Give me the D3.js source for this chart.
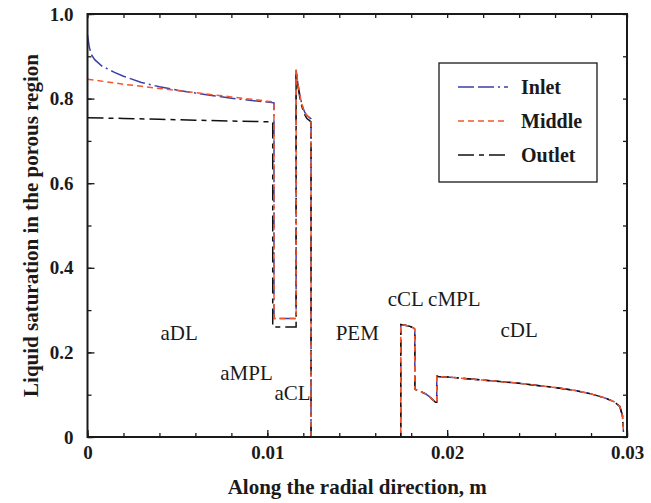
<!DOCTYPE html>
<html><head><meta charset="utf-8">
<script src="https://cdn.jsdelivr.net/npm/d3@7/dist/d3.min.js"></script>
<style>
html,body{margin:0;padding:0;background:#fff;}
svg{display:block;}
text{font-family:"Liberation Serif","Times New Roman",serif;fill:#1a1a1a;}
</style></head>
<body>
<svg id="chart" width="651" height="503"></svg>
<script>
// ---- data ----
const seriesNames = ["Inlet", "Middle", "Outlet"];
const seriesColors = ["#3b3fa8", "#f2572d", "#111111"];
const seriesDash = ["16,4,16,4,2,4", "6,4", "16,5,5,5"];

const inletX = [0,0.0001,0.0002,0.0004,0.0008,0.0015,0.002,0.003,0.004,0.005,0.006,0.007,0.008,0.009,0.010,0.01037,
  0.01037,0.01160,0.01160,0.0117,0.0118,0.0119,0.0120,0.0121,0.0122,0.01235,0.01243,0.01243];
const inletS = [0.95,0.922,0.905,0.892,0.877,0.862,0.853,0.838,0.828,0.820,0.813,0.807,0.801,0.796,0.792,0.790,
  0.28,0.28,0.868,0.835,0.810,0.790,0.776,0.766,0.760,0.755,0.752,0];

const middleX = [0,0.001,0.002,0.003,0.004,0.005,0.006,0.007,0.008,0.009,0.010,0.01037,
  0.01037,0.01160,0.01160,0.0117,0.0118,0.0119,0.0120,0.0121,0.0122,0.01235,0.01243,0.01243];
const middleS = [0.846,0.840,0.834,0.829,0.824,0.819,0.814,0.809,0.804,0.799,0.794,0.792,
  0.28,0.28,0.868,0.835,0.810,0.790,0.776,0.766,0.760,0.755,0.752,0];

const outletX = [0,0.002,0.004,0.006,0.008,0.0103,
  0.0103,0.0116,0.0116,0.0117,0.0118,0.0119,0.0120,0.0121,0.0122,0.01235,0.01243,0.01243];
const outletS = [0.755,0.753,0.751,0.749,0.747,0.745,
  0.26,0.26,0.864,0.830,0.805,0.785,0.770,0.760,0.753,0.748,0.745,0];

// membrane + cathode side (shared by all three)
const cathodeX = [0.01243,0.01742,0.01742,0.0176,0.0179,0.01812,0.0182,0.0182,0.0185,0.0188,0.0190,0.0192,0.01935,0.01942,0.01942,
  0.0195,0.020,0.022,0.024,0.026,0.027,0.028,0.0288,0.0293,0.0296,0.02975,0.0298];
const cathodeS = [0,0,0.266,0.265,0.262,0.258,0.255,0.113,0.108,0.102,0.096,0.088,0.082,0.082,0.144,
  0.143,0.142,0.1345,0.127,0.117,0.111,0.102,0.092,0.083,0.072,0.05,0.012];

const xTickValues = [0, 0.01, 0.02, 0.03];
const xTickLabels = ["0", "0.01", "0.02", "0.03"];
const yTickValues = [0, 0.2, 0.4, 0.6, 0.8, 1.0];
const yTickLabels = ["0", "0.2", "0.4", "0.6", "0.8", "1.0"];

const regionNames = ["aDL", "aMPL", "aCL", "PEM", "cCL", "cMPL", "cDL"];
const regionX = [0.0051, 0.0103, 0.0114, 0.0150, 0.0177, 0.0204, 0.0240];
const regionY = [0.23, 0.135, 0.087, 0.23, 0.31, 0.31, 0.237];
const regionAnchor = ["middle", "end", "middle", "middle", "middle", "middle", "middle"];

// ---- chart ----
const svg = d3.select("#chart");
const L = 87.5, R = 627, T = 14, B = 437;
const x = d3.scaleLinear().domain([0, 0.03]).range([L, R]);
const y = d3.scaleLinear().domain([0, 1]).range([B, T]);

const minorX = d3.range(0, 0.0301, 0.002);
const minorY = d3.range(0, 1.001, 0.1);

function styleAxis(g){
  g.select(".domain").remove();
  g.selectAll(".tick line").attr("stroke","#1a1a1a").attr("stroke-width",1.3);
  g.selectAll(".tick text").attr("font-size",19).attr("font-weight","bold")
    .attr("font-family","'Liberation Serif','Times New Roman',serif").attr("fill","#1a1a1a");
}

// minor ticks
svg.append("g").attr("transform",`translate(0,${B})`)
  .call(d3.axisBottom(x).tickValues(minorX).tickSize(-4).tickFormat(""))
  .call(styleAxis);
svg.append("g").attr("transform",`translate(0,${T})`)
  .call(d3.axisTop(x).tickValues(minorX).tickSize(-4).tickFormat(""))
  .call(styleAxis);
svg.append("g").attr("transform",`translate(${L},0)`)
  .call(d3.axisLeft(y).tickValues(minorY).tickSize(-4).tickFormat(""))
  .call(styleAxis);
svg.append("g").attr("transform",`translate(${R},0)`)
  .call(d3.axisRight(y).tickValues(minorY).tickSize(-4).tickFormat(""))
  .call(styleAxis);

// major ticks with labels
svg.append("g").attr("transform",`translate(0,${B})`)
  .call(d3.axisBottom(x).tickValues(xTickValues).tickSize(-7).tickPadding(9)
    .tickFormat((d,i)=>xTickLabels[i]))
  .call(styleAxis);
svg.append("g").attr("transform",`translate(${L},0)`)
  .call(d3.axisLeft(y).tickValues(yTickValues).tickSize(-7).tickPadding(14)
    .tickFormat((d,i)=>yTickLabels[i]))
  .call(styleAxis);

// series
const line = d3.line().x(d=>x(d[0])).y(d=>y(d[1]));
const seriesData = [
  inletX.concat(cathodeX).map((v,i)=>[v, inletS.concat(cathodeS)[i]]),
  middleX.concat(cathodeX).map((v,i)=>[v, middleS.concat(cathodeS)[i]]),
  outletX.concat(cathodeX).map((v,i)=>[v, outletS.concat(cathodeS)[i]])
];
const drawOrder = [0, 2, 1];
drawOrder.forEach(k=>{
  svg.append("path").datum(seriesData[k])
    .attr("d", line).attr("fill","none")
    .attr("stroke", seriesColors[k]).attr("stroke-width",1.5)
    .attr("stroke-dasharray", seriesDash[k]);
});

// frame
svg.append("rect").attr("x",L).attr("y",T).attr("width",R-L).attr("height",B-T)
  .attr("fill","none").attr("stroke","#1a1a1a").attr("stroke-width",2);

// region labels
regionNames.forEach((n,i)=>{
  svg.append("text").attr("x",x(regionX[i])).attr("y",y(regionY[i]))
    .attr("text-anchor",regionAnchor[i]).attr("font-size",21).text(n);
});

// legend
const lg = svg.append("g");
lg.append("rect").attr("x",439).attr("y",63).attr("width",158).attr("height",119)
  .attr("fill","#fff").attr("stroke","#1a1a1a").attr("stroke-width",1.3);
seriesNames.forEach((n,i)=>{
  const yy = 87 + i*34;
  lg.append("line").attr("x1",458).attr("x2",508).attr("y1",yy).attr("y2",yy)
    .attr("stroke",seriesColors[i]).attr("stroke-width",1.5).attr("stroke-dasharray",seriesDash[i]);
  lg.append("text").attr("x",521).attr("y",yy).attr("dy","0.35em")
    .attr("font-size",20).attr("font-weight","bold").text(n);
});

// axis titles
svg.append("text").attr("x",(L+R)/2).attr("y",494).attr("text-anchor","middle")
  .attr("font-size",21).attr("font-weight","bold").text("Along the radial direction, m");
svg.append("text").attr("transform",`translate(31,${(T+B)/2}) rotate(-90)`)
  .attr("text-anchor","middle").attr("dy","0.35em")
  .attr("font-size",21).attr("font-weight","bold").text("Liquid saturation in the porous region");
</script>
</body></html>
